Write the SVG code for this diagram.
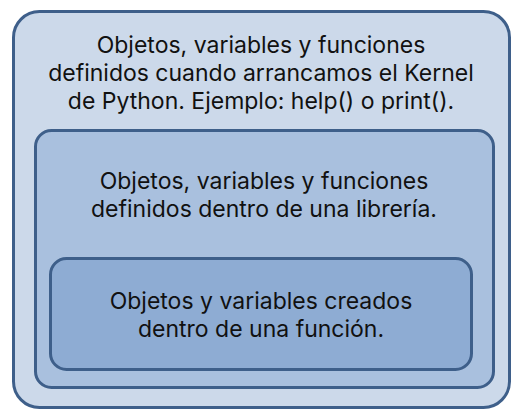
<svg xmlns="http://www.w3.org/2000/svg" width="523" height="418" viewBox="0 0 523 418">
<style>
.box{stroke:#3e5f8a;stroke-width:3}
text{font-family:"Inter","Noto Sans",sans-serif;font-size:23px;fill:#111;text-anchor:middle}
</style>
<rect width="523" height="418" fill="#fff"/>
<g id="global">
<rect class="box" x="13.5" y="11.5" width="496" height="396" rx="26" fill="#ccd9ea"/>
<text x="261" y="53">Objetos, variables y funciones</text>
<text x="261" y="81">definidos cuando arrancamos el Kernel</text>
<text x="261" y="109">de Python. Ejemplo: help() o print().</text>
</g>
<g id="libreria">
<rect class="box" x="35.5" y="130.5" width="458" height="257" rx="16" fill="#a9c0de"/>
<text x="264" y="189">Objetos, variables y funciones</text>
<text x="264" y="217">definidos dentro de una librería.</text>
</g>
<g id="funcion">
<rect class="box" x="50.5" y="258.5" width="421" height="111" rx="16" fill="#8eacd3"/>
<text x="261" y="309">Objetos y variables creados</text>
<text x="261" y="337">dentro de una función.</text>
</g>
<g id="connectors"/>
</svg>
